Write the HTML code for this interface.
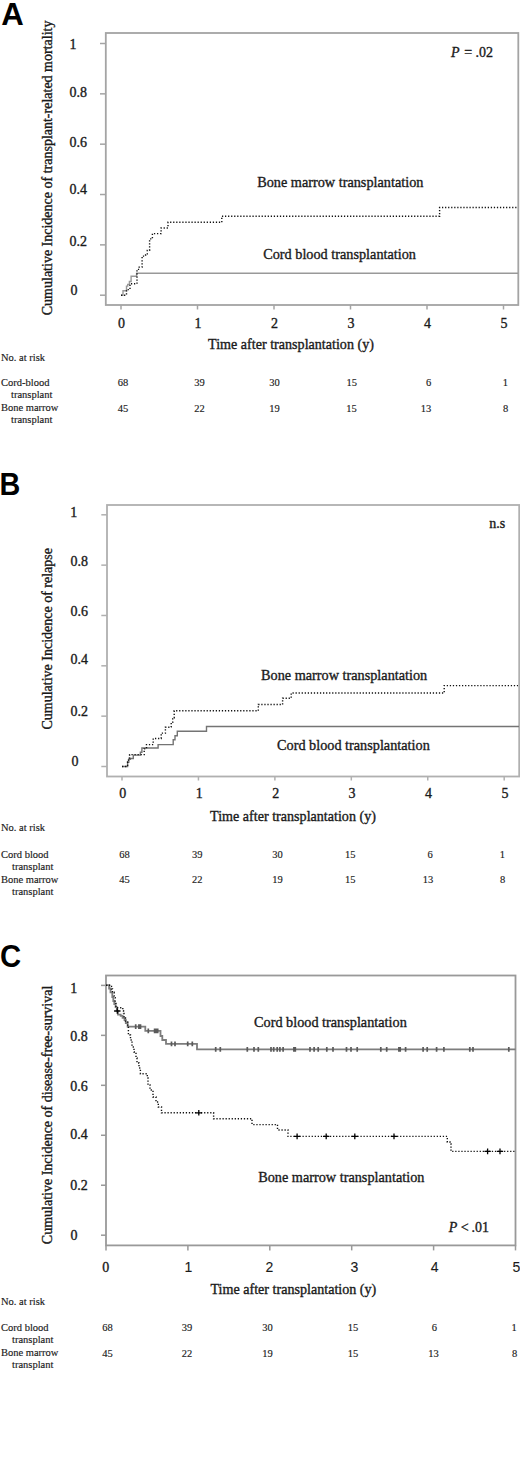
<!DOCTYPE html>
<html><head><meta charset="utf-8"><style>
html,body{margin:0;padding:0;background:#fff;}
body{width:520px;height:1462px;overflow:hidden;}
svg{display:block;}
</style></head><body>
<svg width="520" height="1462" viewBox="0 0 520 1462">
<rect width="520" height="1462" fill="#fff"/>
<text transform="translate(1.2,24.8) scale(0.99,1)" font-size="31.5" font-family="'Liberation Sans', sans-serif" font-weight="bold" fill="#000">A</text>
<rect x="105.8" y="33" width="412.49999999999994" height="272" fill="none" stroke="#a4a4a4" stroke-width="1.8"/>
<line x1="100" y1="295.2" x2="105.8" y2="295.2" stroke="#a4a4a4" stroke-width="1.5"/>
<line x1="100" y1="244.85999999999999" x2="105.8" y2="244.85999999999999" stroke="#a4a4a4" stroke-width="1.5"/>
<line x1="100" y1="194.51999999999998" x2="105.8" y2="194.51999999999998" stroke="#a4a4a4" stroke-width="1.5"/>
<line x1="100" y1="144.18" x2="105.8" y2="144.18" stroke="#a4a4a4" stroke-width="1.5"/>
<line x1="100" y1="93.83999999999997" x2="105.8" y2="93.83999999999997" stroke="#a4a4a4" stroke-width="1.5"/>
<line x1="100" y1="43.5" x2="105.8" y2="43.5" stroke="#a4a4a4" stroke-width="1.5"/>
<line x1="121.0" y1="305" x2="121.0" y2="309.5" stroke="#a4a4a4" stroke-width="1.5"/>
<line x1="197.5" y1="305" x2="197.5" y2="309.5" stroke="#a4a4a4" stroke-width="1.5"/>
<line x1="274.0" y1="305" x2="274.0" y2="309.5" stroke="#a4a4a4" stroke-width="1.5"/>
<line x1="350.5" y1="305" x2="350.5" y2="309.5" stroke="#a4a4a4" stroke-width="1.5"/>
<line x1="427.0" y1="305" x2="427.0" y2="309.5" stroke="#a4a4a4" stroke-width="1.5"/>
<line x1="503.5" y1="305" x2="503.5" y2="309.5" stroke="#a4a4a4" stroke-width="1.5"/>
<text x="69.6" y="48.8" font-size="14" text-anchor="start" font-family="'Liberation Serif', serif" font-weight="normal" font-style="normal" fill="#1a1a1a" stroke="#1a1a1a" stroke-width="0.35" >1</text>
<text x="69.5" y="96.5" font-size="14" text-anchor="start" font-family="'Liberation Serif', serif" font-weight="normal" font-style="normal" fill="#1a1a1a" stroke="#1a1a1a" stroke-width="0.35" >0.8</text>
<text x="69.5" y="146.6" font-size="14" text-anchor="start" font-family="'Liberation Serif', serif" font-weight="normal" font-style="normal" fill="#1a1a1a" stroke="#1a1a1a" stroke-width="0.35" >0.6</text>
<text x="69.5" y="194.3" font-size="14" text-anchor="start" font-family="'Liberation Serif', serif" font-weight="normal" font-style="normal" fill="#1a1a1a" stroke="#1a1a1a" stroke-width="0.35" >0.4</text>
<text x="69.5" y="245.5" font-size="14" text-anchor="start" font-family="'Liberation Serif', serif" font-weight="normal" font-style="normal" fill="#1a1a1a" stroke="#1a1a1a" stroke-width="0.35" >0.2</text>
<text x="70.5" y="295.4" font-size="14" text-anchor="start" font-family="'Liberation Serif', serif" font-weight="normal" font-style="normal" fill="#1a1a1a" stroke="#1a1a1a" stroke-width="0.35" >0</text>
<text x="121.5" y="327.7" font-size="14" text-anchor="middle" font-family="'Liberation Serif', serif" font-weight="normal" font-style="normal" fill="#1a1a1a" stroke="#1a1a1a" stroke-width="0.35" >0</text>
<text x="198.0" y="327.7" font-size="14" text-anchor="middle" font-family="'Liberation Serif', serif" font-weight="normal" font-style="normal" fill="#1a1a1a" stroke="#1a1a1a" stroke-width="0.35" >1</text>
<text x="274.5" y="327.7" font-size="14" text-anchor="middle" font-family="'Liberation Serif', serif" font-weight="normal" font-style="normal" fill="#1a1a1a" stroke="#1a1a1a" stroke-width="0.35" >2</text>
<text x="351.0" y="327.7" font-size="14" text-anchor="middle" font-family="'Liberation Serif', serif" font-weight="normal" font-style="normal" fill="#1a1a1a" stroke="#1a1a1a" stroke-width="0.35" >3</text>
<text x="427.5" y="327.7" font-size="14" text-anchor="middle" font-family="'Liberation Serif', serif" font-weight="normal" font-style="normal" fill="#1a1a1a" stroke="#1a1a1a" stroke-width="0.35" >4</text>
<text x="504.0" y="327.7" font-size="14" text-anchor="middle" font-family="'Liberation Serif', serif" font-weight="normal" font-style="normal" fill="#1a1a1a" stroke="#1a1a1a" stroke-width="0.35" >5</text>
<text transform="translate(51.8,167.9) rotate(-90)" font-size="14" text-anchor="middle" font-family="'Liberation Serif', serif" fill="#1a1a1a" stroke="#1a1a1a" stroke-width="0.35">Cumulative Incidence of transplant-related mortality</text>
<text x="291" y="349" font-size="14.1" text-anchor="middle" font-family="'Liberation Serif', serif" font-weight="normal" font-style="normal" fill="#1a1a1a" stroke="#1a1a1a" stroke-width="0.35" >Time after transplantation (y)</text>
<text x="257.2" y="187.3" font-size="14.25" text-anchor="start" font-family="'Liberation Serif', serif" font-weight="normal" font-style="normal" fill="#1a1a1a" stroke="#1a1a1a" stroke-width="0.35" >Bone marrow transplantation</text>
<text x="263.2" y="259" font-size="14.25" text-anchor="start" font-family="'Liberation Serif', serif" font-weight="normal" font-style="normal" fill="#1a1a1a" stroke="#1a1a1a" stroke-width="0.35" >Cord blood transplantation</text>
<text x="451" y="56.5" font-size="14" text-anchor="start" font-family="'Liberation Serif', serif" font-weight="normal" font-style="normal" fill="#1a1a1a" stroke="#1a1a1a" stroke-width="0.35" ><tspan font-style='italic'>P</tspan><tspan dx='1.3'> =</tspan><tspan dx='-0.3'> .02</tspan></text>
<path d="M121,295.2 H123 V290.7 H126.5 V286.1 H127.7 V284.4 H129.4 V281.5 H131.1 V276.3 H136.6 V273.2 H518" fill="none" stroke="#999999" stroke-width="1.4" stroke-linecap="butt"/>
<path d="M121,295.2 H126.5 V289.6 H130 V283.8 H137 V269.4 H139.2 V267.1 H142.1 V256.1 H145.6 V255 H147.3 V250.4 H149.6 V238.9 H152.4 V233.6 H161.1 V228 H168 V222.3 H221.8 V216.2 H439.6 V207.5 H518" fill="none" stroke="#111" stroke-width="1.4" stroke-dasharray="1.25 1.8" stroke-linecap="butt"/>
<text x="1" y="360.5" font-size="10.5" text-anchor="start" font-family="'Liberation Serif', serif" font-weight="normal" font-style="normal" fill="#1a1a1a" stroke="#1a1a1a" stroke-width="0.15" >No. at risk</text>
<text x="1" y="386.3" font-size="10.5" text-anchor="start" font-family="'Liberation Serif', serif" font-weight="normal" font-style="normal" fill="#1a1a1a" stroke="#1a1a1a" stroke-width="0.15" >Cord-blood</text>
<text x="11" y="398.3" font-size="10.5" text-anchor="start" font-family="'Liberation Serif', serif" font-weight="normal" font-style="normal" fill="#1a1a1a" stroke="#1a1a1a" stroke-width="0.15" >transplant</text>
<text x="1" y="411.3" font-size="10.5" text-anchor="start" font-family="'Liberation Serif', serif" font-weight="normal" font-style="normal" fill="#1a1a1a" stroke="#1a1a1a" stroke-width="0.15" >Bone marrow</text>
<text x="11" y="423" font-size="10.5" text-anchor="start" font-family="'Liberation Serif', serif" font-weight="normal" font-style="normal" fill="#1a1a1a" stroke="#1a1a1a" stroke-width="0.15" >transplant</text>
<text x="123" y="386" font-size="10.5" text-anchor="middle" font-family="'Liberation Serif', serif" font-weight="normal" font-style="normal" fill="#1a1a1a" stroke="#1a1a1a" stroke-width="0.15" >68</text>
<text x="199.6" y="386" font-size="10.5" text-anchor="middle" font-family="'Liberation Serif', serif" font-weight="normal" font-style="normal" fill="#1a1a1a" stroke="#1a1a1a" stroke-width="0.15" >39</text>
<text x="274.4" y="386" font-size="10.5" text-anchor="middle" font-family="'Liberation Serif', serif" font-weight="normal" font-style="normal" fill="#1a1a1a" stroke="#1a1a1a" stroke-width="0.15" >30</text>
<text x="351.7" y="386" font-size="10.5" text-anchor="middle" font-family="'Liberation Serif', serif" font-weight="normal" font-style="normal" fill="#1a1a1a" stroke="#1a1a1a" stroke-width="0.15" >15</text>
<text x="428.6" y="386" font-size="10.5" text-anchor="middle" font-family="'Liberation Serif', serif" font-weight="normal" font-style="normal" fill="#1a1a1a" stroke="#1a1a1a" stroke-width="0.15" >6</text>
<text x="505.4" y="386" font-size="10.5" text-anchor="middle" font-family="'Liberation Serif', serif" font-weight="normal" font-style="normal" fill="#1a1a1a" stroke="#1a1a1a" stroke-width="0.15" >1</text>
<text x="123" y="412" font-size="10.5" text-anchor="middle" font-family="'Liberation Serif', serif" font-weight="normal" font-style="normal" fill="#1a1a1a" stroke="#1a1a1a" stroke-width="0.15" >45</text>
<text x="199.6" y="412" font-size="10.5" text-anchor="middle" font-family="'Liberation Serif', serif" font-weight="normal" font-style="normal" fill="#1a1a1a" stroke="#1a1a1a" stroke-width="0.15" >22</text>
<text x="274.4" y="412" font-size="10.5" text-anchor="middle" font-family="'Liberation Serif', serif" font-weight="normal" font-style="normal" fill="#1a1a1a" stroke="#1a1a1a" stroke-width="0.15" >19</text>
<text x="351.5" y="412" font-size="10.5" text-anchor="middle" font-family="'Liberation Serif', serif" font-weight="normal" font-style="normal" fill="#1a1a1a" stroke="#1a1a1a" stroke-width="0.15" >15</text>
<text x="426" y="412" font-size="10.5" text-anchor="middle" font-family="'Liberation Serif', serif" font-weight="normal" font-style="normal" fill="#1a1a1a" stroke="#1a1a1a" stroke-width="0.15" >13</text>
<text x="505.6" y="412" font-size="10.5" text-anchor="middle" font-family="'Liberation Serif', serif" font-weight="normal" font-style="normal" fill="#1a1a1a" stroke="#1a1a1a" stroke-width="0.15" >8</text>
<text transform="translate(-0.6,494.8) scale(0.93,1)" font-size="31" font-family="'Liberation Sans', sans-serif" font-weight="bold" fill="#000">B</text>
<rect x="107" y="505" width="412.20000000000005" height="271.5" fill="none" stroke="#b0b0b0" stroke-width="1.8"/>
<line x1="101.3" y1="766.5" x2="107" y2="766.5" stroke="#b0b0b0" stroke-width="1.5"/>
<line x1="101.3" y1="716.16" x2="107" y2="716.16" stroke="#b0b0b0" stroke-width="1.5"/>
<line x1="101.3" y1="665.8199999999999" x2="107" y2="665.8199999999999" stroke="#b0b0b0" stroke-width="1.5"/>
<line x1="101.3" y1="615.48" x2="107" y2="615.48" stroke="#b0b0b0" stroke-width="1.5"/>
<line x1="101.3" y1="565.14" x2="107" y2="565.14" stroke="#b0b0b0" stroke-width="1.5"/>
<line x1="101.3" y1="514.8" x2="107" y2="514.8" stroke="#b0b0b0" stroke-width="1.5"/>
<line x1="122.0" y1="776.5" x2="122.0" y2="780.5" stroke="#b0b0b0" stroke-width="1.5"/>
<line x1="198.44" y1="776.5" x2="198.44" y2="780.5" stroke="#b0b0b0" stroke-width="1.5"/>
<line x1="274.88" y1="776.5" x2="274.88" y2="780.5" stroke="#b0b0b0" stroke-width="1.5"/>
<line x1="351.32" y1="776.5" x2="351.32" y2="780.5" stroke="#b0b0b0" stroke-width="1.5"/>
<line x1="427.76" y1="776.5" x2="427.76" y2="780.5" stroke="#b0b0b0" stroke-width="1.5"/>
<line x1="504.2" y1="776.5" x2="504.2" y2="780.5" stroke="#b0b0b0" stroke-width="1.5"/>
<text x="70.3" y="517.2" font-size="14" text-anchor="start" font-family="'Liberation Serif', serif" font-weight="normal" font-style="normal" fill="#1a1a1a" stroke="#1a1a1a" stroke-width="0.35" >1</text>
<text x="70.5" y="565.8" font-size="14" text-anchor="start" font-family="'Liberation Serif', serif" font-weight="normal" font-style="normal" fill="#1a1a1a" stroke="#1a1a1a" stroke-width="0.35" >0.8</text>
<text x="70.5" y="615.5" font-size="14" text-anchor="start" font-family="'Liberation Serif', serif" font-weight="normal" font-style="normal" fill="#1a1a1a" stroke="#1a1a1a" stroke-width="0.35" >0.6</text>
<text x="70.5" y="664.3" font-size="14" text-anchor="start" font-family="'Liberation Serif', serif" font-weight="normal" font-style="normal" fill="#1a1a1a" stroke="#1a1a1a" stroke-width="0.35" >0.4</text>
<text x="70.5" y="715.8" font-size="14" text-anchor="start" font-family="'Liberation Serif', serif" font-weight="normal" font-style="normal" fill="#1a1a1a" stroke="#1a1a1a" stroke-width="0.35" >0.2</text>
<text x="71.5" y="765.8" font-size="14" text-anchor="start" font-family="'Liberation Serif', serif" font-weight="normal" font-style="normal" fill="#1a1a1a" stroke="#1a1a1a" stroke-width="0.35" >0</text>
<text x="122.8" y="798" font-size="14" text-anchor="middle" font-family="'Liberation Serif', serif" font-weight="normal" font-style="normal" fill="#1a1a1a" stroke="#1a1a1a" stroke-width="0.35" >0</text>
<text x="199.24" y="798" font-size="14" text-anchor="middle" font-family="'Liberation Serif', serif" font-weight="normal" font-style="normal" fill="#1a1a1a" stroke="#1a1a1a" stroke-width="0.35" >1</text>
<text x="275.68" y="798" font-size="14" text-anchor="middle" font-family="'Liberation Serif', serif" font-weight="normal" font-style="normal" fill="#1a1a1a" stroke="#1a1a1a" stroke-width="0.35" >2</text>
<text x="352.12" y="798" font-size="14" text-anchor="middle" font-family="'Liberation Serif', serif" font-weight="normal" font-style="normal" fill="#1a1a1a" stroke="#1a1a1a" stroke-width="0.35" >3</text>
<text x="428.56" y="798" font-size="14" text-anchor="middle" font-family="'Liberation Serif', serif" font-weight="normal" font-style="normal" fill="#1a1a1a" stroke="#1a1a1a" stroke-width="0.35" >4</text>
<text x="505.0" y="798" font-size="14" text-anchor="middle" font-family="'Liberation Serif', serif" font-weight="normal" font-style="normal" fill="#1a1a1a" stroke="#1a1a1a" stroke-width="0.35" >5</text>
<text transform="translate(52.1,638.8) rotate(-90)" font-size="14" text-anchor="middle" font-family="'Liberation Serif', serif" fill="#1a1a1a" stroke="#1a1a1a" stroke-width="0.35">Cumulative Incidence of relapse</text>
<text x="293" y="821" font-size="14.1" text-anchor="middle" font-family="'Liberation Serif', serif" font-weight="normal" font-style="normal" fill="#1a1a1a" stroke="#1a1a1a" stroke-width="0.35" >Time after transplantation (y)</text>
<text x="261" y="680" font-size="14.25" text-anchor="start" font-family="'Liberation Serif', serif" font-weight="normal" font-style="normal" fill="#1a1a1a" stroke="#1a1a1a" stroke-width="0.35" >Bone marrow transplantation</text>
<text x="277" y="749.7" font-size="14.25" text-anchor="start" font-family="'Liberation Serif', serif" font-weight="normal" font-style="normal" fill="#1a1a1a" stroke="#1a1a1a" stroke-width="0.35" >Cord blood transplantation</text>
<text x="489.2" y="527.7" font-size="14" text-anchor="start" font-family="'Liberation Serif', serif" font-weight="normal" font-style="normal" fill="#1a1a1a" stroke="#1a1a1a" stroke-width="0.35" >n.s</text>
<path d="M122,766.5 H127.6 V762.3 H128.8 V759.2 H130.4 V758.5 H133.3 V755.1 H140.4 V752.3 H141.9 V748 H158.1 V744.6 H173.2 V739.7 H175 V735.7 H177.3 V731.3 H206.5 V726.5 H519" fill="none" stroke="#747474" stroke-width="1.4" stroke-linecap="butt"/>
<path d="M122,766.5 H127.6 V762 H128.5 V758 H129.6 V754.6 H144.2 V748.9 H146.5 V744.6 H153.2 V738.5 H161.2 V733.1 H165.4 V727.3 H169.6 V726.9 H171.2 V722.3 H172.7 V717.7 H174.2 V710.8 H258.3 V704.5 H282.6 V698.3 H291.2 V693 H444.2 V685.6 H518" fill="none" stroke="#111" stroke-width="1.4" stroke-dasharray="1.25 1.8" stroke-linecap="butt"/>
<text x="1" y="831.3" font-size="10.5" text-anchor="start" font-family="'Liberation Serif', serif" font-weight="normal" font-style="normal" fill="#1a1a1a" stroke="#1a1a1a" stroke-width="0.15" >No. at risk</text>
<text x="1" y="857.5" font-size="10.5" text-anchor="start" font-family="'Liberation Serif', serif" font-weight="normal" font-style="normal" fill="#1a1a1a" stroke="#1a1a1a" stroke-width="0.15" >Cord blood</text>
<text x="12" y="870" font-size="10.5" text-anchor="start" font-family="'Liberation Serif', serif" font-weight="normal" font-style="normal" fill="#1a1a1a" stroke="#1a1a1a" stroke-width="0.15" >transplant</text>
<text x="1" y="883" font-size="10.5" text-anchor="start" font-family="'Liberation Serif', serif" font-weight="normal" font-style="normal" fill="#1a1a1a" stroke="#1a1a1a" stroke-width="0.15" >Bone marrow</text>
<text x="12" y="895" font-size="10.5" text-anchor="start" font-family="'Liberation Serif', serif" font-weight="normal" font-style="normal" fill="#1a1a1a" stroke="#1a1a1a" stroke-width="0.15" >transplant</text>
<text x="124.4" y="858" font-size="10.5" text-anchor="middle" font-family="'Liberation Serif', serif" font-weight="normal" font-style="normal" fill="#1a1a1a" stroke="#1a1a1a" stroke-width="0.15" >68</text>
<text x="197.3" y="858" font-size="10.5" text-anchor="middle" font-family="'Liberation Serif', serif" font-weight="normal" font-style="normal" fill="#1a1a1a" stroke="#1a1a1a" stroke-width="0.15" >39</text>
<text x="277.5" y="858" font-size="10.5" text-anchor="middle" font-family="'Liberation Serif', serif" font-weight="normal" font-style="normal" fill="#1a1a1a" stroke="#1a1a1a" stroke-width="0.15" >30</text>
<text x="350.2" y="858" font-size="10.5" text-anchor="middle" font-family="'Liberation Serif', serif" font-weight="normal" font-style="normal" fill="#1a1a1a" stroke="#1a1a1a" stroke-width="0.15" >15</text>
<text x="430" y="858" font-size="10.5" text-anchor="middle" font-family="'Liberation Serif', serif" font-weight="normal" font-style="normal" fill="#1a1a1a" stroke="#1a1a1a" stroke-width="0.15" >6</text>
<text x="502.3" y="858" font-size="10.5" text-anchor="middle" font-family="'Liberation Serif', serif" font-weight="normal" font-style="normal" fill="#1a1a1a" stroke="#1a1a1a" stroke-width="0.15" >1</text>
<text x="124.4" y="883" font-size="10.5" text-anchor="middle" font-family="'Liberation Serif', serif" font-weight="normal" font-style="normal" fill="#1a1a1a" stroke="#1a1a1a" stroke-width="0.15" >45</text>
<text x="197.3" y="883" font-size="10.5" text-anchor="middle" font-family="'Liberation Serif', serif" font-weight="normal" font-style="normal" fill="#1a1a1a" stroke="#1a1a1a" stroke-width="0.15" >22</text>
<text x="277.5" y="883" font-size="10.5" text-anchor="middle" font-family="'Liberation Serif', serif" font-weight="normal" font-style="normal" fill="#1a1a1a" stroke="#1a1a1a" stroke-width="0.15" >19</text>
<text x="350.2" y="883" font-size="10.5" text-anchor="middle" font-family="'Liberation Serif', serif" font-weight="normal" font-style="normal" fill="#1a1a1a" stroke="#1a1a1a" stroke-width="0.15" >15</text>
<text x="428" y="883" font-size="10.5" text-anchor="middle" font-family="'Liberation Serif', serif" font-weight="normal" font-style="normal" fill="#1a1a1a" stroke="#1a1a1a" stroke-width="0.15" >13</text>
<text x="502.7" y="883" font-size="10.5" text-anchor="middle" font-family="'Liberation Serif', serif" font-weight="normal" font-style="normal" fill="#1a1a1a" stroke="#1a1a1a" stroke-width="0.15" >8</text>
<text transform="translate(0,967.3) scale(0.93,1)" font-size="31.5" font-family="'Liberation Sans', sans-serif" font-weight="bold" fill="#000">C</text>
<rect x="106" y="975.5" width="409.5" height="269.9000000000001" fill="none" stroke="#999999" stroke-width="1.8"/>
<line x1="101" y1="1235.2" x2="106" y2="1235.2" stroke="#999999" stroke-width="1.5"/>
<line x1="101" y1="1185.24" x2="106" y2="1185.24" stroke="#999999" stroke-width="1.5"/>
<line x1="101" y1="1135.28" x2="106" y2="1135.28" stroke="#999999" stroke-width="1.5"/>
<line x1="101" y1="1085.3200000000002" x2="106" y2="1085.3200000000002" stroke="#999999" stroke-width="1.5"/>
<line x1="101" y1="1035.3600000000001" x2="106" y2="1035.3600000000001" stroke="#999999" stroke-width="1.5"/>
<line x1="101" y1="985.4000000000001" x2="106" y2="985.4000000000001" stroke="#999999" stroke-width="1.5"/>
<line x1="106.0" y1="1245.4" x2="106.0" y2="1250.4" stroke="#999999" stroke-width="1.5"/>
<line x1="187.9" y1="1245.4" x2="187.9" y2="1250.4" stroke="#999999" stroke-width="1.5"/>
<line x1="269.8" y1="1245.4" x2="269.8" y2="1250.4" stroke="#999999" stroke-width="1.5"/>
<line x1="351.70000000000005" y1="1245.4" x2="351.70000000000005" y2="1250.4" stroke="#999999" stroke-width="1.5"/>
<line x1="433.6" y1="1245.4" x2="433.6" y2="1250.4" stroke="#999999" stroke-width="1.5"/>
<line x1="515.5" y1="1245.4" x2="515.5" y2="1250.4" stroke="#999999" stroke-width="1.5"/>
<text x="70.3" y="993.1" font-size="14" text-anchor="start" font-family="'Liberation Serif', serif" font-weight="normal" font-style="normal" fill="#1a1a1a" stroke="#1a1a1a" stroke-width="0.35" >1</text>
<text x="70.3" y="1040.6" font-size="14" text-anchor="start" font-family="'Liberation Serif', serif" font-weight="normal" font-style="normal" fill="#1a1a1a" stroke="#1a1a1a" stroke-width="0.35" >0.8</text>
<text x="70.3" y="1091.3" font-size="14" text-anchor="start" font-family="'Liberation Serif', serif" font-weight="normal" font-style="normal" fill="#1a1a1a" stroke="#1a1a1a" stroke-width="0.35" >0.6</text>
<text x="70.3" y="1138.8" font-size="14" text-anchor="start" font-family="'Liberation Serif', serif" font-weight="normal" font-style="normal" fill="#1a1a1a" stroke="#1a1a1a" stroke-width="0.35" >0.4</text>
<text x="70.3" y="1190" font-size="14" text-anchor="start" font-family="'Liberation Serif', serif" font-weight="normal" font-style="normal" fill="#1a1a1a" stroke="#1a1a1a" stroke-width="0.35" >0.2</text>
<text x="70.5" y="1240.2" font-size="14" text-anchor="start" font-family="'Liberation Serif', serif" font-weight="normal" font-style="normal" fill="#1a1a1a" stroke="#1a1a1a" stroke-width="0.35" >0</text>
<text x="105.8" y="1272" font-size="14" text-anchor="middle" font-family="'Liberation Serif', serif" font-weight="normal" font-style="normal" fill="#1a1a1a" stroke="#1a1a1a" stroke-width="0.35" >0</text>
<text x="188.3" y="1271.8" font-size="14" text-anchor="middle" font-family="'Liberation Sans', sans-serif" font-weight="normal" font-style="normal" fill="#1a1a1a" stroke="#1a1a1a" stroke-width="0.1" >1</text>
<text x="269.5" y="1271.8" font-size="14" text-anchor="middle" font-family="'Liberation Sans', sans-serif" font-weight="normal" font-style="normal" fill="#1a1a1a" stroke="#1a1a1a" stroke-width="0.1" >2</text>
<text x="354.4" y="1271.8" font-size="14" text-anchor="middle" font-family="'Liberation Sans', sans-serif" font-weight="normal" font-style="normal" fill="#1a1a1a" stroke="#1a1a1a" stroke-width="0.1" >3</text>
<text x="434.6" y="1271.8" font-size="14" text-anchor="middle" font-family="'Liberation Sans', sans-serif" font-weight="normal" font-style="normal" fill="#1a1a1a" stroke="#1a1a1a" stroke-width="0.1" >4</text>
<text x="516.5" y="1271.8" font-size="14" text-anchor="middle" font-family="'Liberation Sans', sans-serif" font-weight="normal" font-style="normal" fill="#1a1a1a" stroke="#1a1a1a" stroke-width="0.1" >5</text>
<text transform="translate(51.7,1114.9) rotate(-90)" font-size="14" text-anchor="middle" font-family="'Liberation Serif', serif" fill="#1a1a1a" stroke="#1a1a1a" stroke-width="0.35">Cumulative Incidence of disease-free-survival</text>
<text x="293.4" y="1294.2" font-size="14.1" text-anchor="middle" font-family="'Liberation Serif', serif" font-weight="normal" font-style="normal" fill="#1a1a1a" stroke="#1a1a1a" stroke-width="0.35" >Time after transplantation (y)</text>
<text x="254" y="1026.9" font-size="14.25" text-anchor="start" font-family="'Liberation Serif', serif" font-weight="normal" font-style="normal" fill="#1a1a1a" stroke="#1a1a1a" stroke-width="0.35" >Cord blood transplantation</text>
<text x="258.2" y="1181.9" font-size="14.25" text-anchor="start" font-family="'Liberation Serif', serif" font-weight="normal" font-style="normal" fill="#1a1a1a" stroke="#1a1a1a" stroke-width="0.35" >Bone marrow transplantation</text>
<text x="448.7" y="1232.2" font-size="14" text-anchor="start" font-family="'Liberation Serif', serif" font-weight="normal" font-style="normal" fill="#1a1a1a" stroke="#1a1a1a" stroke-width="0.35" ><tspan font-style='italic'>P</tspan> &lt;<tspan dx='-0.6'> .01</tspan></text>
<path d="M106,985.2 H109.1 V988.5 H110.5 V992.3 H112.3 V997 H113.3 V1001 H114.3 V1004 H115.6 V1007.2 H116.8 V1010.6 H118 V1014.6 H120.7 V1015.8 H122.6 V1017.9 H124.5 V1020 H125.8 V1023 H127.6 V1026.6 H145.3 V1030.9 H160.5 V1036 H162.3 V1040 H166 V1043.9 H197 V1049.4 H515.5" fill="none" stroke="#7d7d7d" stroke-width="1.8" stroke-linecap="butt"/>
<path d="M135.7,1024.1999999999998 V1029.0 M138.9,1024.1999999999998 V1029.0 M140.5,1024.1999999999998 V1029.0 M148.3,1028.5 V1033.3000000000002 M154.6,1028.5 V1033.3000000000002 M156.2,1028.5 V1033.3000000000002 M157.7,1028.5 V1033.3000000000002 M171.5,1041.5 V1046.3000000000002 M175,1041.5 V1046.3000000000002 M187.7,1041.5 V1046.3000000000002 M192.3,1041.5 V1046.3000000000002 M215.7,1047.0 V1051.8000000000002 M220.3,1047.0 V1051.8000000000002 M247.3,1047.0 V1051.8000000000002 M254,1047.0 V1051.8000000000002 M258.3,1047.0 V1051.8000000000002 M271,1047.0 V1051.8000000000002 M273.7,1047.0 V1051.8000000000002 M277.2,1047.0 V1051.8000000000002 M279.9,1047.0 V1051.8000000000002 M283.1,1047.0 V1051.8000000000002 M293.9,1047.0 V1051.8000000000002 M295.3,1047.0 V1051.8000000000002 M310,1047.0 V1051.8000000000002 M314.1,1047.0 V1051.8000000000002 M318.2,1047.0 V1051.8000000000002 M326.8,1047.0 V1051.8000000000002 M333,1047.0 V1051.8000000000002 M346.5,1047.0 V1051.8000000000002 M351,1047.0 V1051.8000000000002 M357.2,1047.0 V1051.8000000000002 M380.8,1047.0 V1051.8000000000002 M386.7,1047.0 V1051.8000000000002 M398.9,1047.0 V1051.8000000000002 M400.2,1047.0 V1051.8000000000002 M405.6,1047.0 V1051.8000000000002 M423.1,1047.0 V1051.8000000000002 M427.2,1047.0 V1051.8000000000002 M436.6,1047.0 V1051.8000000000002 M443.9,1047.0 V1051.8000000000002 M469.8,1047.0 V1051.8000000000002 M473,1047.0 V1051.8000000000002 M508.8,1047.0 V1051.8000000000002" fill="none" stroke="#5a5a5a" stroke-width="1.7" stroke-linecap="butt"/>
<path d="M106,985.2 H111.5 V989 H112.5 V992.3 H114.2 V997.6 H115.2 V1002.4 H115.9 V1007.7 H122.8 V1010.6 H123.5 V1013.5 H124 V1018 H125.5 V1022 H127.7 V1026.6 H128.4 V1035 H130.5 V1040 H132 V1047 H134 V1052 H136 V1058 H137 V1063 H139 V1068 H140.4 V1073.8 H147.3 V1078 H148 V1085 H150 V1090 H153 V1097 H156 V1102 H158.3 V1107 H161.5 V1112.8 H213.6 V1118.8 H252 V1124.6 H277.5 V1130 H288 V1136.4 H447.3 V1142 H450 V1144 H451 V1151.4 H515" fill="none" stroke="#111" stroke-width="1.4" stroke-dasharray="1.25 1.8" stroke-linecap="butt"/>
<path d="M114.1,1011 H120.5 M117.3,1008.2 V1013.8 M195.60000000000002,1112.8 H202.0 M198.8,1110.0 V1115.6 M293.90000000000003,1136.4 H300.3 M297.1,1133.6000000000001 V1139.2 M323.0,1136.4 H329.4 M326.2,1133.6000000000001 V1139.2 M351.6,1136.4 H358.0 M354.8,1133.6000000000001 V1139.2 M390.8,1136.4 H397.2 M394,1133.6000000000001 V1139.2 M484.40000000000003,1151.4 H490.8 M487.6,1148.6000000000001 V1154.2 M496.8,1151.4 H503.2 M500,1148.6000000000001 V1154.2" fill="none" stroke="#000" stroke-width="1.3" stroke-linecap="butt"/>
<text x="1" y="1305" font-size="10.5" text-anchor="start" font-family="'Liberation Serif', serif" font-weight="normal" font-style="normal" fill="#1a1a1a" stroke="#1a1a1a" stroke-width="0.15" >No. at risk</text>
<text x="1" y="1331.3" font-size="10.5" text-anchor="start" font-family="'Liberation Serif', serif" font-weight="normal" font-style="normal" fill="#1a1a1a" stroke="#1a1a1a" stroke-width="0.15" >Cord blood</text>
<text x="12" y="1343.3" font-size="10.5" text-anchor="start" font-family="'Liberation Serif', serif" font-weight="normal" font-style="normal" fill="#1a1a1a" stroke="#1a1a1a" stroke-width="0.15" >transplant</text>
<text x="1" y="1356.3" font-size="10.5" text-anchor="start" font-family="'Liberation Serif', serif" font-weight="normal" font-style="normal" fill="#1a1a1a" stroke="#1a1a1a" stroke-width="0.15" >Bone marrow</text>
<text x="12" y="1368.3" font-size="10.5" text-anchor="start" font-family="'Liberation Serif', serif" font-weight="normal" font-style="normal" fill="#1a1a1a" stroke="#1a1a1a" stroke-width="0.15" >transplant</text>
<text x="107.4" y="1331.3" font-size="10.5" text-anchor="middle" font-family="'Liberation Serif', serif" font-weight="normal" font-style="normal" fill="#1a1a1a" stroke="#1a1a1a" stroke-width="0.15" >68</text>
<text x="187.1" y="1331.3" font-size="10.5" text-anchor="middle" font-family="'Liberation Serif', serif" font-weight="normal" font-style="normal" fill="#1a1a1a" stroke="#1a1a1a" stroke-width="0.15" >39</text>
<text x="267.4" y="1331.3" font-size="10.5" text-anchor="middle" font-family="'Liberation Serif', serif" font-weight="normal" font-style="normal" fill="#1a1a1a" stroke="#1a1a1a" stroke-width="0.15" >30</text>
<text x="353" y="1331.3" font-size="10.5" text-anchor="middle" font-family="'Liberation Serif', serif" font-weight="normal" font-style="normal" fill="#1a1a1a" stroke="#1a1a1a" stroke-width="0.15" >15</text>
<text x="434.4" y="1331.3" font-size="10.5" text-anchor="middle" font-family="'Liberation Serif', serif" font-weight="normal" font-style="normal" fill="#1a1a1a" stroke="#1a1a1a" stroke-width="0.15" >6</text>
<text x="514" y="1331.3" font-size="10.5" text-anchor="middle" font-family="'Liberation Serif', serif" font-weight="normal" font-style="normal" fill="#1a1a1a" stroke="#1a1a1a" stroke-width="0.15" >1</text>
<text x="107.4" y="1357" font-size="10.5" text-anchor="middle" font-family="'Liberation Serif', serif" font-weight="normal" font-style="normal" fill="#1a1a1a" stroke="#1a1a1a" stroke-width="0.15" >45</text>
<text x="187.1" y="1357" font-size="10.5" text-anchor="middle" font-family="'Liberation Serif', serif" font-weight="normal" font-style="normal" fill="#1a1a1a" stroke="#1a1a1a" stroke-width="0.15" >22</text>
<text x="267.4" y="1357" font-size="10.5" text-anchor="middle" font-family="'Liberation Serif', serif" font-weight="normal" font-style="normal" fill="#1a1a1a" stroke="#1a1a1a" stroke-width="0.15" >19</text>
<text x="353" y="1357" font-size="10.5" text-anchor="middle" font-family="'Liberation Serif', serif" font-weight="normal" font-style="normal" fill="#1a1a1a" stroke="#1a1a1a" stroke-width="0.15" >15</text>
<text x="433.5" y="1357" font-size="10.5" text-anchor="middle" font-family="'Liberation Serif', serif" font-weight="normal" font-style="normal" fill="#1a1a1a" stroke="#1a1a1a" stroke-width="0.15" >13</text>
<text x="514.7" y="1357" font-size="10.5" text-anchor="middle" font-family="'Liberation Serif', serif" font-weight="normal" font-style="normal" fill="#1a1a1a" stroke="#1a1a1a" stroke-width="0.15" >8</text>
</svg>
</body></html>
